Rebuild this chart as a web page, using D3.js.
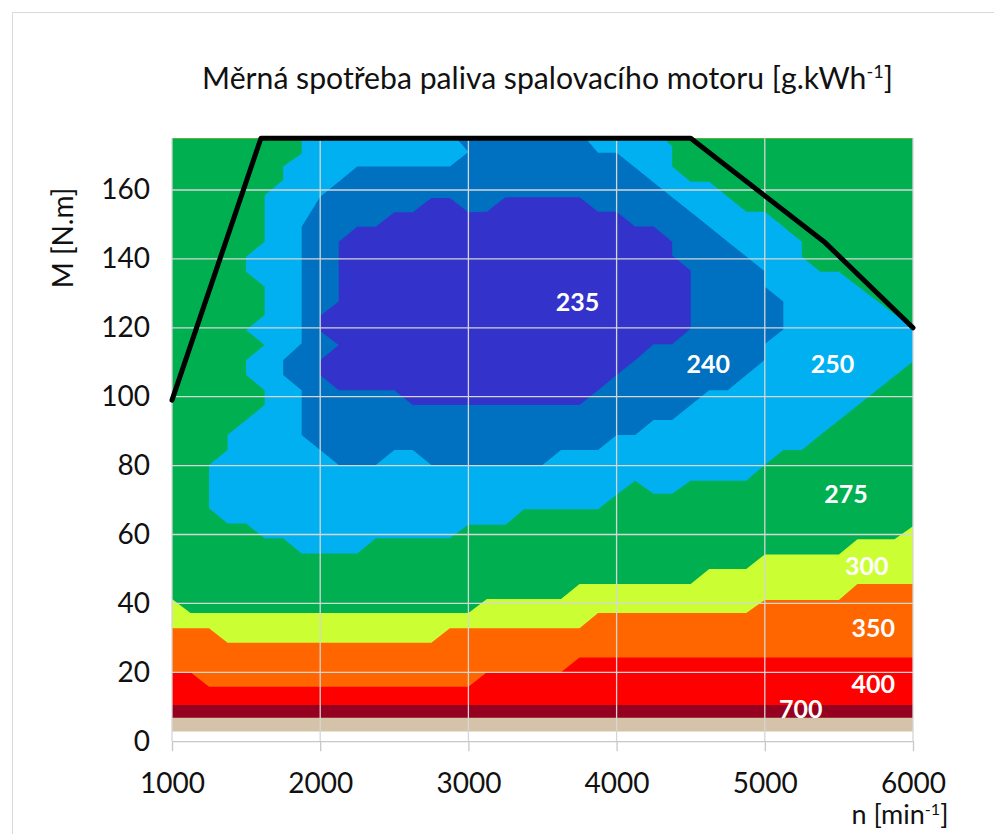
<!DOCTYPE html>
<html>
<head>
<meta charset="utf-8">
<script src="https://cdn.jsdelivr.net/npm/d3@7"></script>
<style>
  html, body { margin: 0; padding: 0; background: #fff; }
  svg { display: block; }
  text { font-family: Lato, "Open Sans", sans-serif; fill: #111; }
</style>
</head>
<body>
<svg id="chart" width="994" height="834"></svg>
<script>
// Axes: engine speed n [min-1] and torque M [N.m]
const speedTicks = [1000, 2000, 3000, 4000, 5000, 6000];
const torqueTicks = [0, 20, 40, 60, 80, 100, 120, 140, 160];
const speedDomain = [1000, 6000];
const torqueDomain = [0, 175];

// Specific fuel consumption levels [g/kWh]; each colour fills the region below its level
const levels = [235, 240, 250, 275, 300, 350, 400, 700];
const levelColors = ["#3333CC", "#0070C0", "#00B0F0", "#00B050", "#CCFF33", "#FF6600", "#FF0000", "#950020"];
const aboveAllColor = "#D4C3A9";           // consumption above 700
const mapFloor = [[1000, 2.8], [6000, 2.8]]; // lowest torque covered by the map

// Isolines crossing the whole speed range (low load), [n, M]
const iso700 = [[1000, 6.8], [6000, 6.8]];
const iso400 = [[1000, 10.5], [6000, 10.5]];
const iso350 = [[1000, 20.0], [1125, 20.0], [1250, 15.8], [3000, 15.8], [3125, 20.0], [3625, 20.0],
                [3750, 24.3], [6000, 24.3]];
const iso300 = [[1000, 32.8], [1250, 32.8], [1375, 28.6], [2750, 28.6], [2875, 32.8], [3750, 32.8],
                [3875, 37.2], [4875, 37.2], [5000, 41.0], [5500, 41.0], [5625, 45.6], [6000, 45.6]];
const iso275 = [[1000, 41.3], [1125, 37.2], [3000, 37.2], [3125, 41.3], [3625, 41.3], [3750, 45.6],
                [4500, 45.6], [4625, 50.0], [4875, 50.0], [5000, 54.2], [5500, 54.2], [5625, 58.6],
                [5875, 58.6], [6000, 62.4]];

// Closed isolines around the best-efficiency island, [n, M]
const iso250 = [[1875, 175], [4316, 175], [4375, 172.6], [4375, 166.8], [4500, 162.4], [4625, 162.4],
                [4875, 153.7], [5000, 153.7], [5250, 145.0], [5250, 140.6], [5375, 136.3], [5500, 136.3],
                [6000, 119.8], [6000, 110.2], [5375, 88.9], [5250, 84.5], [5125, 84.5], [5000, 80.2],
                [4875, 75.6], [4500, 75.6], [4375, 71.8], [4250, 71.8], [4125, 75.6], [4000, 71.5],
                [3875, 67.3], [3375, 67.3], [3250, 62.8], [3000, 62.8], [2875, 58.9], [2375, 58.9],
                [2250, 54.5], [1875, 54.5], [1750, 58.9], [1625, 58.9], [1500, 63.2], [1375, 63.2],
                [1250, 67.6], [1250, 80.2], [1375, 84.5], [1375, 88.9], [1500, 93.2], [1625, 97.6],
                [1625, 101.9], [1500, 106.3], [1500, 110.6], [1625, 115.0], [1500, 119.3], [1625, 123.7],
                [1625, 131.9], [1500, 136.3], [1500, 140.6], [1625, 145.0], [1625, 158.5], [1750, 162.9],
                [1750, 166.8], [1875, 170.6]];
const iso240 = [[2920, 175], [3790, 175], [3875, 170.8], [4000, 170.8], [4125, 166.5], [4250, 162.2],
                [4375, 157.9], [4500, 153.6], [4625, 149.3], [4750, 145.0], [4875, 140.7], [5000, 136.4],
                [5000, 131.9], [5125, 127.6], [5125, 119.5], [5000, 115.3], [5000, 110.7], [4750, 101.9],
                [4625, 101.9], [4375, 93.2], [4250, 93.2], [4125, 88.9], [4000, 88.9], [3875, 84.5],
                [3625, 84.5], [3500, 80.2], [2750, 80.2], [2625, 84.5], [2500, 84.5], [2375, 80.2],
                [2125, 80.2], [1875, 88.9], [1875, 101.9], [1750, 106.3], [1750, 110.6], [1875, 115.5],
                [1875, 149.3], [2000, 158.0], [2125, 162.4], [2250, 166.8], [2875, 166.8], [3000, 171.0]];
const iso235 = [[2125, 145.0], [2250, 149.3], [2375, 149.3], [2500, 153.5], [2625, 153.5], [2750, 157.7],
                [2875, 157.7], [3000, 153.5], [3125, 153.7], [3250, 157.9], [3750, 157.9], [3875, 153.7],
                [4000, 153.7], [4125, 149.4], [4250, 149.4], [4375, 145.0], [4375, 141.0], [4500, 136.6],
                [4500, 119.8], [4375, 115.2], [4250, 115.2], [4125, 110.6], [4000, 106.3], [3875, 101.9],
                [3750, 97.6], [2625, 97.6], [2500, 101.9], [2125, 101.9], [2000, 106.3], [2000, 110.6],
                [2125, 115.0], [2000, 119.1], [2000, 123.5], [2125, 127.6]];

// Full-load torque curve, [n, M]
const fullLoad = [[1000, 99], [1600, 175], [4500, 175], [5400, 145], [6000, 120]];

// Where each level's value is written, [n, M] (same order as levels)
const labelSpots = [[3736, 127.6], [4619, 109.4], [5457, 109.4], [5548, 71.8], [5688, 50.9],
                    [5732, 32.9], [5732, 16.6], [5242, 9.4]];

const titleText = "Měrná spotřeba paliva spalovacího motoru [g.kWh";
const xTitle = "n [min";
const yTitle = "M [N.m]";

// ---------------------------------------------------------------
const svg = d3.select("#chart");
const x = d3.scaleLinear().domain(speedDomain).range([172, 913]);
const y = d3.scaleLinear().domain(torqueDomain).range([741.2, 138.3]);

// outer chart frame
svg.append("rect").attr("x", 12.5).attr("y", 12.5).attr("width", 1000).attr("height", 900)
  .attr("fill", "none").attr("stroke", "#D9D9D9").attr("stroke-width", 1);

svg.append("defs").append("clipPath").attr("id", "plotClip")
  .append("rect").attr("x", x(speedDomain[0])).attr("y", y(torqueDomain[1]))
  .attr("width", x(speedDomain[1]) - x(speedDomain[0]))
  .attr("height", y(torqueDomain[0]) - y(torqueDomain[1]));

const map = svg.append("g").attr("clip-path", "url(#plotClip)");

// region from an open isoline up to the top of the map
const upArea = d3.area().x(d => x(d[0])).y0(y(torqueDomain[1])).y1(d => y(d[1]));
const closedLine = d3.line().x(d => x(d[0])).y(d => y(d[1])).curve(d3.curveLinearClosed);

map.append("path").attr("d", upArea(mapFloor)).attr("fill", aboveAllColor);

const isolines = [
  { level: 700, pts: iso700, open: true },
  { level: 400, pts: iso400, open: true },
  { level: 350, pts: iso350, open: true },
  { level: 300, pts: iso300, open: true },
  { level: 275, pts: iso275, open: true },
  { level: 250, pts: iso250, open: false },
  { level: 240, pts: iso240, open: false },
  { level: 235, pts: iso235, open: false }
];
const colorOf = d3.scaleOrdinal().domain(levels).range(levelColors);

isolines.forEach(iso => {
  map.append("path")
    .attr("d", iso.open ? upArea(iso.pts) : closedLine(iso.pts))
    .attr("fill", colorOf(iso.level));
});

// gridlines over the coloured map
const grid = svg.append("g").attr("stroke", "#D6D6D6").attr("stroke-width", 1.3);
grid.selectAll(".vg").data(speedTicks).join("line")
  .attr("x1", d => x(d)).attr("x2", d => x(d))
  .attr("y1", y(torqueDomain[0])).attr("y2", y(torqueDomain[1]));
grid.selectAll(".hg").data(torqueTicks.filter(d => d > 0)).join("line")
  .attr("x1", x(speedDomain[0])).attr("x2", x(speedDomain[1]))
  .attr("y1", d => y(d)).attr("y2", d => y(d));

// full-load curve
svg.append("path")
  .attr("d", d3.line().x(d => x(d[0])).y(d => y(d[1]))(fullLoad))
  .attr("fill", "none").attr("stroke", "#000").attr("stroke-width", 5)
  .attr("stroke-linejoin", "round").attr("stroke-linecap", "round");

// level labels
svg.append("g").selectAll("text").data(levels).join("text")
  .attr("x", (d, i) => x(labelSpots[i][0]))
  .attr("y", (d, i) => y(labelSpots[i][1]))
  .attr("dy", "0.36em")
  .attr("text-anchor", "middle")
  .style("font-size", "25px").style("font-weight", "700").style("fill", "#fff")
  .text(d => d);

// axes
const xAxis = svg.append("g").attr("transform", `translate(0,${y(0)})`)
  .call(d3.axisBottom(x).tickValues(speedTicks).tickSize(10).tickSizeOuter(0).tickPadding(22)
    .tickFormat(d3.format("d")));
xAxis.select(".domain").attr("stroke", "#C8C8C8").attr("stroke-width", 1.3);
xAxis.selectAll(".tick line").attr("stroke", "#C8C8C8").attr("stroke-width", 1.3);
xAxis.selectAll("text").style("font-size", "28px").style("fill", "#111").attr("font-family", null);

const yAxis = svg.append("g").attr("transform", `translate(${x(speedDomain[0])},0)`)
  .call(d3.axisLeft(y).tickValues(torqueTicks).tickSize(0).tickPadding(22));
yAxis.select(".domain").remove();
yAxis.selectAll("text").style("font-size", "28px").style("fill", "#111").attr("font-family", null);

// titles
function supText(sel, main, sup, tail) {
  sel.append("tspan").text(main);
  sel.append("tspan").attr("baseline-shift", "super").style("font-size", "0.6em").text(sup);
  sel.append("tspan").text(tail);
  return sel;
}
const title = svg.append("text").attr("x", 547.5).attr("y", 89).attr("text-anchor", "middle")
  .style("font-size", "28px");
supText(title, titleText, "-1", "]");
const tw = title.node().getComputedTextLength();
title.style("font-size", (28 * 691 / tw).toFixed(2) + "px");

const xt = svg.append("text").attr("x", 900).attr("y", 824).attr("text-anchor", "middle")
  .style("font-size", "27px");
supText(xt, xTitle, "-1", "]");

svg.append("text").attr("transform", "translate(63,238) rotate(-90)")
  .attr("text-anchor", "middle").attr("dy", "0.35em").style("font-size", "28px").text(yTitle);
</script>
</body>
</html>
